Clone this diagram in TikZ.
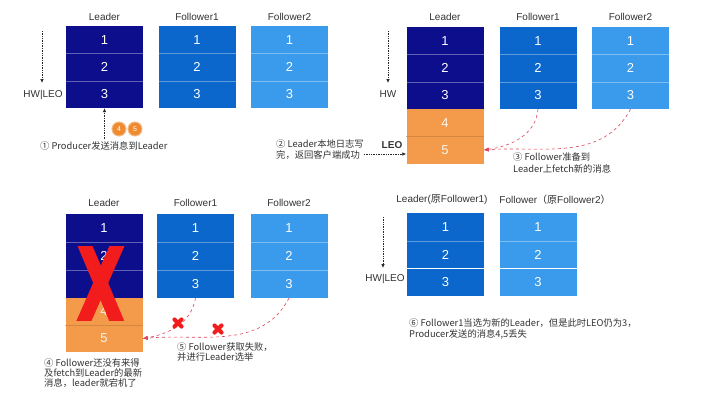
\documentclass[tikz,border=0pt]{standalone}
\usepackage{fontspec}
\setmainfont{Liberation Sans}
\newfontfamily\cjk{Noto Sans CJK SC}
\usetikzlibrary{arrows.meta}
\definecolor{leadc}{HTML}{0D0E8B}
\definecolor{fone}{HTML}{0B67CC}
\definecolor{ftwo}{HTML}{3A9AEB}
\definecolor{orng}{HTML}{F39B4B}
\definecolor{msgc}{HTML}{EE8A30}
\definecolor{redx}{HTML}{F21C1C}
\definecolor{reddash}{HTML}{E0455A}
\definecolor{txt}{HTML}{333333}
\tikzset{
  cell/.style={minimum width=77pt, minimum height=27.3pt, inner sep=0pt, text=white, font=\fontsize{13}{13}\selectfont},
  ocell/.style={cell, fill=orng, text=white!88!orng},
  title/.style={font=\fontsize{10}{12}\selectfont, text=txt, inner sep=0pt},
  lbl/.style={font=\fontsize{10}{12}\selectfont, text=txt, inner sep=0pt},
  note/.style={font=\cjk\fontsize{9.3}{10.5}\selectfont, align=left, anchor=west, text=txt, inner sep=0pt},
  sepline/.style={white, opacity=0.35, line width=0.6pt},
  osep/.style={orng!75!black, opacity=0.5, line width=0.8pt},
  hwarrow/.style={densely dotted, -{Latex[length=4pt,width=3.5pt]}, line width=0.7pt, black!85},
  fetch/.style={reddash, dashed, line width=0.6pt, -{Latex[length=5pt,width=4pt]}},
  bigx/.style={redx, line width=13.8pt},
  failx/.style={redx, line width=4.2pt, line cap=round},
  msg/.style={circle, fill=msgc, draw=msgc!60!white, line width=1pt, minimum size=14pt, inner sep=0pt, text=white, font=\fontsize{7}{7}\selectfont}
}
\begin{document}
\begin{tikzpicture}[x=1pt,y=-1pt]
\useasboundingbox[fill=white] (0,0) rectangle (708,402);

% ---------------- Panel 1 ----------------
\node[title] (t1L) at (104.5,17) {Leader};
\node[title] (t1F1) at (197,17) {Follower1};
\node[title] (t1F2) at (289.5,17) {Follower2};
\node[cell, fill=leadc] (a1) at (104.5,39.7) {1};
\node[cell, fill=leadc] (a2) at (104.5,67) {2};
\node[cell, fill=leadc] (a3) at (104.5,94.3) {3};
\node[cell, fill=fone] (p1f1) at (197,39.7) {1};
\node[cell, fill=fone] (p1f2) at (197,67) {2};
\node[cell, fill=fone] (p1f3) at (197,94.3) {3};
\node[cell, fill=ftwo] (p1g1) at (289.5,39.7) {1};
\node[cell, fill=ftwo] (p1g2) at (289.5,67) {2};
\node[cell, fill=ftwo] (p1g3) at (289.5,94.3) {3};
\foreach \n in {a1,a2,p1f1,p1f2,p1g1,p1g2}{\draw[sepline] (\n.south west) -- (\n.south east);}
\coordinate (h1s) at (42,31);
\coordinate (h1e) at (42,83);
\draw[hwarrow] (h1s) -- (h1e);
\node[lbl] (hw1) at (43,94.5) {HW|LEO};
\coordinate (pr1) at (104.5,139);
\draw[hwarrow] (pr1) -- (a3.south);
\node[msg] (m4) at (119,129) {4};
\node[msg] (m5) at (135,129) {5};
\node[note] (n1) at (40,146) {① Producer发送消息到Leader};

% ---------------- Panel 2 ----------------
\node[title] (t2L) at (445,17) {Leader};
\node[title] (t2F1) at (538,17) {Follower1};
\node[title] (t2F2) at (630.5,17) {Follower2};
\node[cell, fill=leadc] (b1) at (445,40.7) {1};
\node[cell, fill=leadc] (b2) at (445,68) {2};
\node[cell, fill=leadc] (b3) at (445,95.3) {3};
\node[ocell] (b4) at (445,122.6) {4};
\node[ocell] (b5) at (445,150) {5};
\node[cell, fill=fone] (c1) at (538,40.7) {1};
\node[cell, fill=fone] (c2) at (538,68) {2};
\node[cell, fill=fone] (c3) at (538,95.3) {3};
\node[cell, fill=ftwo] (d1) at (630.5,40.7) {1};
\node[cell, fill=ftwo] (d2) at (630.5,68) {2};
\node[cell, fill=ftwo] (d3) at (630.5,95.3) {3};
\foreach \n in {b1,b2,c1,c2,d1,d2}{\draw[sepline] (\n.south west) -- (\n.south east);}
\draw[osep] (b4.south west) -- (b4.south east);
\coordinate (h2s) at (388,31);
\coordinate (h2e) at (388,83);
\draw[hwarrow] (h2s) -- (h2e);
\node[lbl] (hw2) at (388,94.5) {HW};
\node[lbl, font=\bfseries\fontsize{10}{12}\selectfont] (leo2) at (392,145) {LEO};
\node[note] (n2) at (276,149.5) {② Leader本地日志写\\完，返回客户端成功};
\coordinate (leo2s) at (364,154);
\draw[hwarrow] (leo2s) -- (leo2s -| b5.west);
\draw[fetch] (c3.south) to[out=-95,in=8] (b5.east);
\draw[fetch] (d3.south) to[out=-118,in=4] (b5.east);
\node[note, font=\cjk\fontsize{9.3}{12}\selectfont] (n3) at (513,163) {③ Follower准备到\\Leader上fetch新的消息};

% ---------------- Panel 3 ----------------
\node[title] (t3L) at (104,203) {Leader};
\node[title] (t3F1) at (195.5,203) {Follower1};
\node[title] (t3F2) at (289,203) {Follower2};
\node[cell, fill=leadc, minimum height=28pt] (e1) at (104,228) {1};
\node[cell, fill=leadc, minimum height=28pt] (e2) at (104,256) {2};
\node[cell, fill=leadc, minimum height=28pt] (e3) at (104,284) {3};
\node[ocell] (e4) at (104,311.5) {4};
\node[ocell] (e5) at (104,338.5) {5};
\node[cell, fill=fone, minimum height=28pt] (f1) at (195.5,228) {1};
\node[cell, fill=fone, minimum height=28pt] (f2) at (195.5,256) {2};
\node[cell, fill=fone, minimum height=28pt] (f3) at (195.5,284) {3};
\node[cell, fill=ftwo, minimum height=28pt] (g1) at (289,228) {1};
\node[cell, fill=ftwo, minimum height=28pt] (g2) at (289,256) {2};
\node[cell, fill=ftwo, minimum height=28pt] (g3) at (289,284) {3};
\foreach \n in {e1,e2,f1,f2,g1,g2}{\draw[sepline] (\n.south west) -- (\n.south east);}
\draw[osep] (e4.south west) -- (e4.south east);
\begin{scope}
  \clip (66,246) rectangle (142,320);
  \draw[bigx] (80.8,236) -- (120.6,330);
  \draw[bigx] (121.4,236) -- (79.9,330);
\end{scope}
\draw[fetch] (f3.south) to[out=-100,in=10] (e5.east);
\draw[fetch] (g3.south) to[out=-118,in=5] (e5.east);
\coordinate (x1) at (178,323);
\coordinate (x2) at (218,329);
\foreach \c in {x1,x2}{
  \draw[failx] ([shift={(-3.5,-3.5)}]\c) -- ([shift={(3.5,3.5)}]\c);
  \draw[failx] ([shift={(-3.5,3.5)}]\c) -- ([shift={(3.5,-3.5)}]\c);
}
\node[note] (n5) at (177,352) {⑤ Follower获取失败，\\并进行Leader选举};
\node[note, font=\cjk\fontsize{9.3}{10}\selectfont] (n4) at (44,373) {④ Follower还没有来得\\及fetch到Leader的最新\\消息，leader就宕机了};

% ---------------- Panel 4 ----------------
\node[title] (t4L) at (442,200) {Leader({\cjk 原}Follower1)};
\node[title] (t4F) at (555,200) {Follower{\cjk （原}Follower2{\cjk ）}};
\node[cell, fill=fone] (h1) at (445.5,227) {1};
\node[cell, fill=fone] (h2) at (445.5,254.7) {2};
\node[cell, fill=fone] (h3) at (445.5,282.3) {3};
\node[cell, fill=ftwo] (k1) at (538,227) {1};
\node[cell, fill=ftwo] (k2) at (538,254.7) {2};
\node[cell, fill=ftwo] (k3) at (538,282.3) {3};
\foreach \n in {h1,h2,k1,k2}{\draw[sepline] (\n.south west) -- (\n.south east);}
\coordinate (h4s) at (383,217);
\coordinate (h4e) at (383,268);
\draw[hwarrow] (h4s) -- (h4e);
\node[lbl] (hw4) at (385,279) {HW|LEO};
\node[note, font=\cjk\fontsize{9.3}{11}\selectfont] (n6) at (409,328.5) {⑥ Follower1当选为新的Leader，但是此时LEO仍为3，\\Producer发送的消息4,5丢失};
\end{tikzpicture}
\end{document}
